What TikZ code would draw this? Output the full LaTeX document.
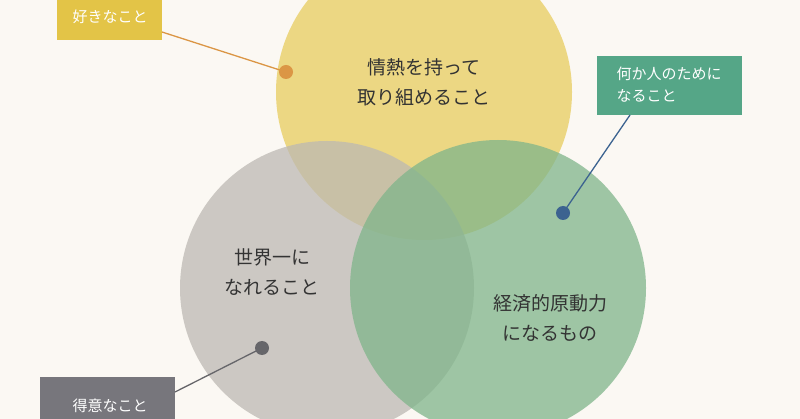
\documentclass[tikz,border=0pt]{standalone}
\usepackage{fontspec}
\setmainfont{Noto Sans CJK JP}
\definecolor{bg}{HTML}{FBF8F3}
\definecolor{cy}{HTML}{E8CC5E}
\definecolor{cg}{HTML}{BDB9B3}
\definecolor{cgr}{HTML}{7FB58A}
\definecolor{by}{HTML}{E3C447}
\definecolor{bgr}{HTML}{55A687}
\definecolor{bgy}{HTML}{77767C}
\definecolor{lo}{HTML}{DB9645}
\definecolor{lb}{HTML}{3C6390}
\definecolor{lg}{HTML}{66666A}
\tikzset{x=1pt,y=-1pt,
 circ/.style={fill opacity=0.75,draw=none},
 ctext/.style={align=center,font=\fontsize{19}{30}\selectfont,text=black!80},
 lbl/.style={font=\fontsize{15}{22}\selectfont,text=white,align=left,inner sep=0pt},
 lead/.style={line width=1.3pt},
 dotm/.style={circle,inner sep=0pt,minimum size=14pt}}
\begin{document}
\begin{tikzpicture}
\fill[bg] (0,0) rectangle (800,419);
\useasboundingbox (0,0) rectangle (800,419);
\fill[cy,circ] (424,92) circle (148);
\fill[cg,circ] (327,288) circle (147);
\fill[cgr,circ] (498,288) circle (148);
\node[ctext] (t1) at (424,82) {情熱を持って\\取り組めること};
\node[ctext] (t2) at (272,272) {世界一に\\なれること};
\node[ctext] (t3) at (550,318) {経済的原動力\\になるもの};
% labels
\fill[by] (57,-2) rectangle (162,40);
\node[lbl,text=white] (l1) at (110,17) {好きなこと};
\fill[bgr] (597,56) rectangle (742,115);
\node[lbl] (l2) at (669,85) {何か人のために\\なること};
\fill[bgy] (40,377) rectangle (175,422);
\node[lbl] (l3) at (110,406) {得意なこと};
\node[dotm,fill=lo] (d1) at (286,72) {};
\node[dotm,fill=lb] (d2) at (563,213) {};
\node[dotm,fill=lg] (d3) at (262,348) {};
\coordinate (e1) at (162,32);
\coordinate (e2) at (630,115);
\coordinate (e3) at (175,392);
\draw[lead,lo] (e1) -- (d1.center);
\draw[lead,lb] (e2) -- (d2.center);
\draw[lead,lg] (e3) -- (d3.center);
\end{tikzpicture}
\end{document}
